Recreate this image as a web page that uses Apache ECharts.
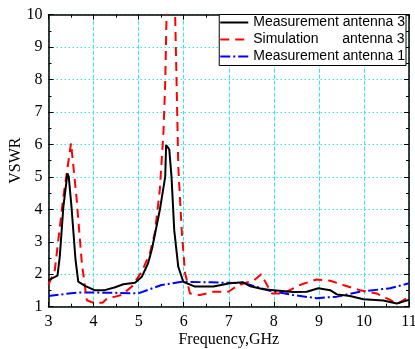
<!DOCTYPE html>
<html>
<head>
<meta charset="utf-8">
<script src="https://cdn.jsdelivr.net/npm/echarts@6/dist/echarts.min.js"></script>
<style>html,body{margin:0;padding:0;background:#fff;}#c{width:415px;height:349px;}</style>
</head>
<body>
<div id="c"></div>
<script>
// ---- data ----
var xTicks = [3, 4, 5, 6, 7, 8, 9, 10, 11];
var yTicks = [1, 2, 3, 4, 5, 6, 7, 8, 9, 10];

var measA3Freq = [3, 3.2, 3.25, 3.33, 3.42, 3.45, 3.51, 3.6, 3.66, 3.81, 4.02, 4.25, 4.48, 4.66, 4.92, 5.07, 5.21, 5.3, 5.47, 5.59, 5.61, 5.64, 5.68, 5.73, 5.79, 5.88, 5.99, 6.25, 6.66, 7.03, 7.32, 7.48, 7.77, 8.0, 8.43, 8.73, 8.99, 9.25, 9.4, 9.69, 9.99, 10.43, 10.73, 11];
var measA3Vswr = [1.82, 1.96, 2.54, 4.08, 5.11, 5.0, 4.08, 2.44, 1.77, 1.64, 1.51, 1.51, 1.6, 1.69, 1.74, 1.92, 2.34, 2.8, 3.98, 5.0, 5.98, 5.98, 5.85, 5.0, 3.36, 2.23, 1.77, 1.62, 1.62, 1.72, 1.75, 1.63, 1.54, 1.51, 1.45, 1.46, 1.57, 1.51, 1.38, 1.33, 1.23, 1.19, 1.1, 1.21];

var simA3Freq = [3, 3.14, 3.33, 3.5, 3.62, 3.74, 3.85, 4.0, 4.2, 4.3, 4.48, 4.62, 4.85, 5.07, 5.25, 5.36, 5.47, 5.55, 5.59, 5.62, 5.72, 5.81, 5.85, 5.88, 5.96, 6.03, 6.14, 6.36, 6.66, 6.99, 7.2, 7.4, 7.55, 7.72, 7.85, 7.96, 8.21, 8.58, 8.95, 9.25, 9.54, 9.91, 10.28, 10.58, 10.73, 10.95, 11];
var simA3Vswr = [1.67, 2.13, 4.39, 6.04, 4.39, 2.34, 1.2, 1.12, 1.12, 1.25, 1.31, 1.36, 1.62, 2.08, 2.65, 3.27, 4.6, 6.35, 7.9, 10.0, 12.5, 10.0, 7.42, 5.32, 3.27, 2.04, 1.41, 1.36, 1.46, 1.46, 1.65, 1.75, 1.8, 2.0, 1.67, 1.41, 1.41, 1.67, 1.84, 1.8, 1.67, 1.51, 1.41, 1.21, 1.08, 1.26, 1.36];

var measA1Freq = [3, 3.66, 4.4, 4.99, 5.51, 5.96, 6.62, 7.36, 7.48, 7.91, 8.43, 8.95, 9.4, 9.91, 10.58, 11];
var measA1Vswr = [1.33, 1.44, 1.43, 1.41, 1.67, 1.77, 1.75, 1.72, 1.67, 1.49, 1.36, 1.26, 1.31, 1.46, 1.57, 1.72];

var seriesNames = ['Measurement antenna 3', 'Simulation antenna 3', 'Measurement antenna 1'];
var xName = 'Frequency,GHz';
var yName = 'VSWR';

function pairs(xs, ys) { return xs.map(function (x, i) { return [x, ys[i]]; }); }

var grid = '#33e6f0';
var serif = 'Liberation Serif';
function axisCommon(pos, labels) {
  return {
    type: 'value',
    position: pos,
    axisLine: { show: true, onZero: false, lineStyle: { color: '#000', width: 1.5 } },
    axisTick: { show: true, inside: true, length: 5, lineStyle: { color: '#000', width: 1 } },
    minorTick: { show: true, splitNumber: 2, length: 3, lineStyle: { color: '#000', width: 1 } },
    axisLabel: { show: labels, color: '#000', fontFamily: serif, fontSize: 16 },
    splitLine: { show: false }
  };
}

var xB = axisCommon('bottom', true);
xB.min = xTicks[0]; xB.max = xTicks[xTicks.length - 1]; xB.interval = 1;
xB.splitLine = { show: true, lineStyle: { color: grid, type: [4, 2], width: 1 } };
xB.axisLabel.margin = 7;
xB.axisLabel.showMaxLabel = true;
xB.name = xName; xB.nameLocation = 'middle'; xB.nameGap = 25; xB.nameMoveOverlap = false;
xB.nameTextStyle = { color: '#000', fontFamily: serif, fontSize: 16 };

var xT = axisCommon('top', false);
xT.min = xTicks[0]; xT.max = xTicks[xTicks.length - 1]; xT.interval = 1;

var yL = axisCommon('left', true);
yL.min = yTicks[0]; yL.max = yTicks[yTicks.length - 1]; yL.interval = 1;
yL.splitLine = { show: true, lineStyle: { color: grid, type: [1.5, 2.5], width: 1 } };
yL.axisLabel.margin = 6;
yL.name = yName; yL.nameLocation = 'middle'; yL.nameGap = 25; yL.nameRotate = 90; yL.nameMoveOverlap = false;
yL.nameTextStyle = { color: '#000', fontFamily: serif, fontSize: 16 };

var yR = axisCommon('right', false);
yR.min = yTicks[0]; yR.max = yTicks[yTicks.length - 1]; yR.interval = 1;

var chart = echarts.init(document.getElementById('c'), null, { renderer: 'canvas' });
chart.setOption({
  animation: false,
  backgroundColor: '#fff',
  grid: { left: 48.5, right: 6, top: 14.7, bottom: 42.3, containLabel: false, outerBoundsMode: 'none' },
  xAxis: [xB, xT],
  yAxis: [yL, yR],
  legend: {
    data: seriesNames,
    orient: 'vertical',
    right: 9,
    top: 14.5,
    itemWidth: 28,
    itemHeight: 10,
    itemGap: 3,
    padding: [1, 1, 2, 0],
    backgroundColor: '#fff',
    borderColor: '#000',
    borderWidth: 1,
    borderRadius: 0,
    itemStyle: { opacity: 0 },
    formatter: function (name) {
      if (name === seriesNames[1]) return '{s|Simulation}antenna 3';
      return name;
    },
    textStyle: {
      color: '#000', fontFamily: 'Liberation Sans', fontSize: 14,
      rich: { s: { width: 89, color: '#000', fontFamily: 'Liberation Sans', fontSize: 14 } }
    }
  },
  series: [
    {
      name: seriesNames[0], type: 'line', xAxisIndex: 0, yAxisIndex: 0,
      data: pairs(measA3Freq, measA3Vswr), showSymbol: false, symbol: 'none',
      lineStyle: { color: '#000', width: 2 }, itemStyle: { color: '#000' }, z: 5
    },
    {
      name: seriesNames[1], type: 'line', xAxisIndex: 0, yAxisIndex: 0,
      data: pairs(simA3Freq, simA3Vswr), showSymbol: false, symbol: 'none',
      lineStyle: { color: '#ff0000', width: 2, type: [9, 6] }, itemStyle: { color: '#ff0000' }, z: 4
    },
    {
      name: seriesNames[2], type: 'line', xAxisIndex: 0, yAxisIndex: 0,
      data: pairs(measA1Freq, measA1Vswr), showSymbol: false, symbol: 'none',
      lineStyle: { color: '#0000ff', width: 2, type: [10, 3, 2, 3] }, itemStyle: { color: '#0000ff' }, z: 3
    }
  ]
});
</script>
</body>
</html>
